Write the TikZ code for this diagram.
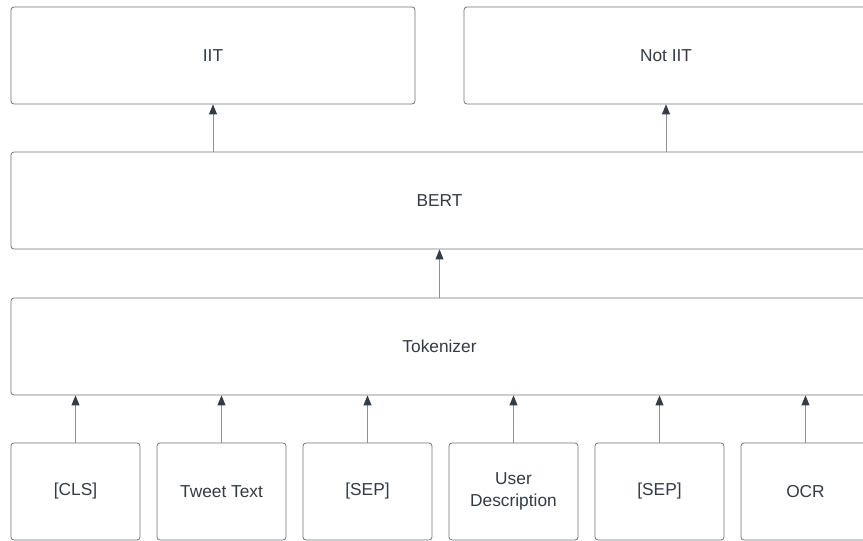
\documentclass[tikz,border=0pt]{standalone}
\usepackage{fontspec}
\setmainfont{Liberation Sans}
\usetikzlibrary{arrows.meta}
\definecolor{boxline}{HTML}{6E7278}
\definecolor{txtgray}{HTML}{333A44}
\definecolor{linkline}{HTML}{8C8F94}
\definecolor{tipgray}{HTML}{333D4A}
\begin{document}
\begin{tikzpicture}[x=1pt,y=-1pt,inner sep=0,
	box/.style={draw=boxline,rounded corners=3pt,line width=0.8pt,text=txtgray,align=center,
		font=\fontsize{17.3}{21.7}\selectfont,minimum height=97pt},
	link/.style={draw=linkline,line width=1pt,-{Triangle[width=8pt,length=10pt,color=tipgray]}}]
		\useasboundingbox (0,0) rectangle (863,541);
		\clip (0,0) rectangle (863,541);
		\node[box,minimum width=404pt] (iit) at (213,55.5) {IIT};
		\node[box,minimum width=404pt] (notiit) at (666,55.5) {Not IIT};
		\node[box,minimum width=857pt] (bert) at (439.5,200.5) {BERT};
		\node[box,minimum width=857pt] (tok) at (439.5,346.5) {Tokenizer};
		\node[box,minimum width=129pt] (cls) at (75.5,491.5) {[CLS]};
		\node[box,minimum width=129pt] (tweet) at (221.5,491.5) {Tweet Text};
		\node[box,minimum width=129pt] (sepa) at (367.5,491.5) {[SEP]};
		\node[box,minimum width=129pt] (user) at (513.5,491.5) {User\\Description};
		\node[box,minimum width=129pt] (sepb) at (659.5,491.5) {[SEP]};
		\node[box,minimum width=129pt] (ocr) at (805.5,491.5) {OCR};
		\draw[link] (cls.north) -- (cls.north |- tok.south);
		\draw[link] (tweet.north) -- (tweet.north |- tok.south);
		\draw[link] (sepa.north) -- (sepa.north |- tok.south);
		\draw[link] (user.north) -- (user.north |- tok.south);
		\draw[link] (sepb.north) -- (sepb.north |- tok.south);
		\draw[link] (ocr.north) -- (ocr.north |- tok.south);
		\draw[link] (tok.north) -- (bert.south);
		\draw[link] (iit.south |- bert.north) -- (iit.south);
		\draw[link] (notiit.south |- bert.north) -- (notiit.south);
	\end{tikzpicture}
\end{document}
